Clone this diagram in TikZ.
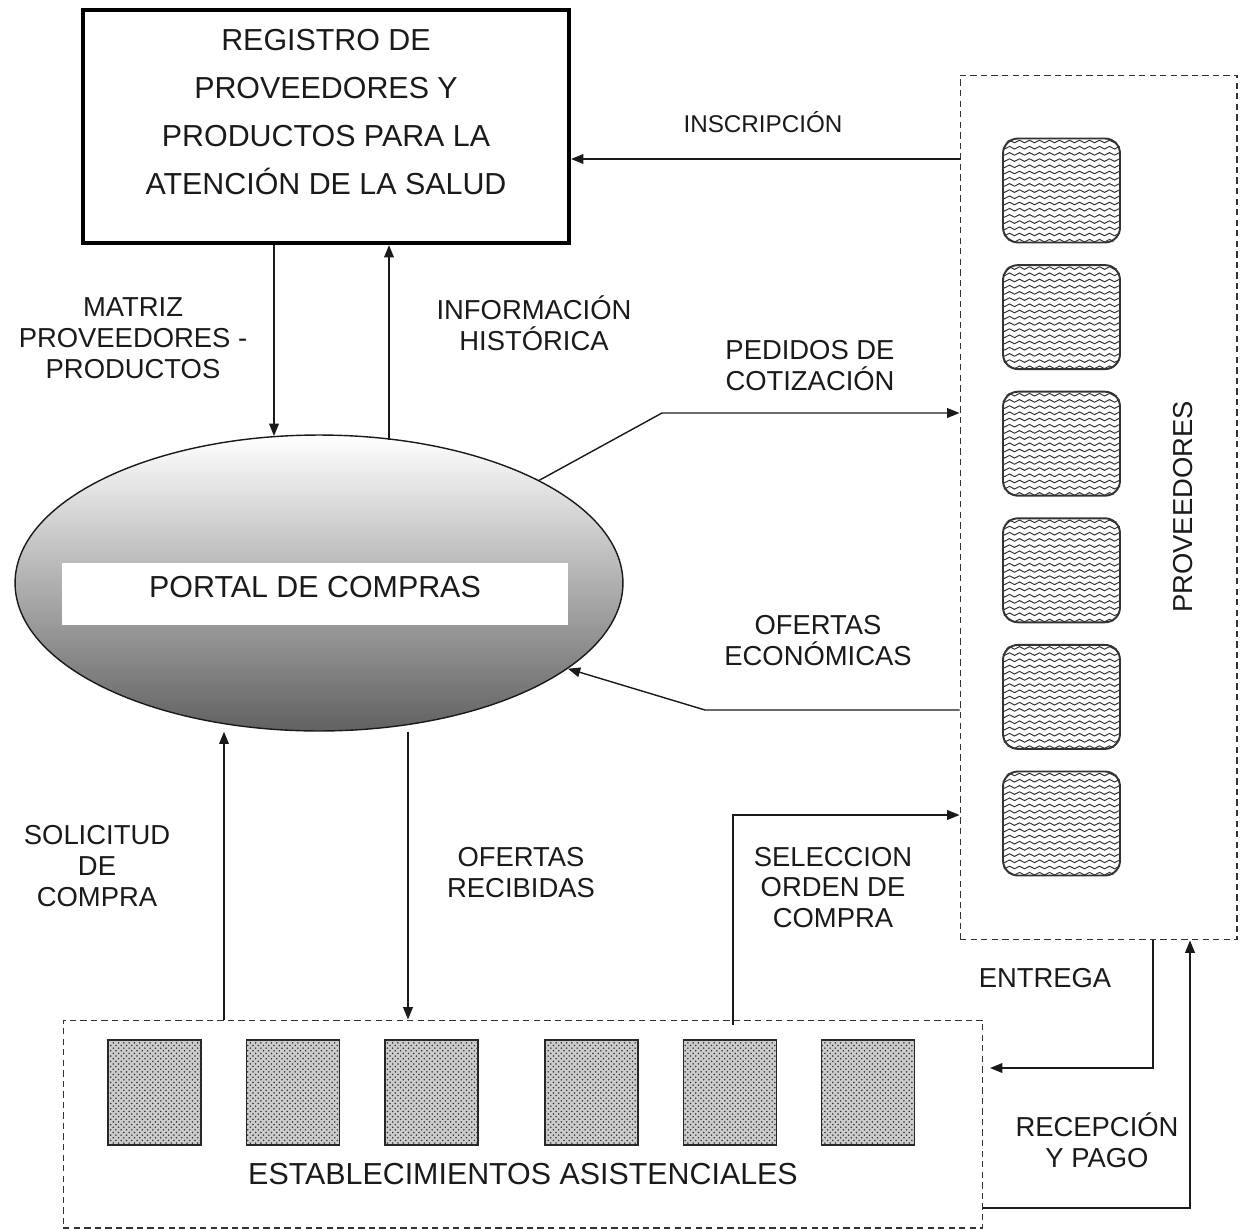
\documentclass[tikz,border=0pt]{standalone}
\usepackage{fontspec}
\setmainfont{Liberation Sans}
\usetikzlibrary{arrows.meta,shapes.geometric,patterns}
\definecolor{ink}{HTML}{1A1A1A}
\begin{document}
\begin{tikzpicture}[x=0.02cm,y=-0.02cm,
  big/.style={font=\fontsize{17.3}{27.2}\selectfont, text=ink, align=center, inner sep=0pt},
  lbl/.style={font=\fontsize{15.6}{17.6}\selectfont, text=ink, align=center, inner sep=0pt},
  arr/.style={draw=ink, line width=0.8pt, -{Triangle[length=7pt,width=5.5pt]}},
  dashbox/.style={draw=black!80, line width=0.6pt, dash pattern=on 3.6pt off 2.4pt, rectangle, inner sep=0pt},
  wavebox/.style={rectangle, rounded corners=0.3cm, draw=black!80, line width=1.1pt,
    minimum width=2.34cm, minimum height=2.08cm, inner sep=0pt},
  wave/.style={black!80, line width=0.55pt},
  dotbox/.style={rectangle, draw=black!85, line width=1.1pt, fill=gray!40,
    minimum width=1.86cm, minimum height=2.1cm, inner sep=0pt,
    postaction={pattern=crosshatch dots, pattern color=black!80}}
]
\useasboundingbox (0,0) rectangle (1246,1230);

% registry
\node[rectangle, draw=black, line width=2.4pt, minimum width=9.72cm, minimum height=4.66cm, inner sep=0pt] (reg) at (326,126.5) {};
\node[big] (regtxt) at (326,112) {REGISTRO DE\\PROVEEDORES Y\\PRODUCTOS PARA LA\\ATENCIÓN DE LA SALUD};

% portal ellipse
\node[ellipse, draw=ink, line width=0.8pt, minimum width=12.16cm, minimum height=5.92cm, inner sep=0pt,
  shading=axis, top color=white, middle color=black!18, bottom color=black!62] (portal) at (319,583) {};
\node[rectangle, fill=white, minimum width=10.12cm, minimum height=1.24cm, inner sep=0pt] (portalbox) at (315,594) {};
\node[big] (portaltxt) at (315,587) {PORTAL DE COMPRAS};

% proveedores box
\node[dashbox, minimum width=5.54cm, minimum height=17.3cm] (prov) at (1098.5,507.5) {};
\foreach \i in {0,...,5} {
  \node[wavebox] (w\i) at (1061.5,190.5+\i*126.6) {};
  \begin{scope}
    \clip[rounded corners=0.3cm] (w\i.south west) rectangle (w\i.north east);
    \foreach \k in {0,...,16}
      \draw[wave] plot[domain=0:120, samples=49] ({1002+\x}, {138.5+\i*126.6+3+\k*6.2+1.3*sin(36*\x)});
  \end{scope}
}
\node[lbl, rotate=90] (provtxt) at (1183,507) {PROVEEDORES};

% establecimientos box
\node[dashbox, minimum width=18.4cm, minimum height=4.16cm] (est) at (523,1124) {};
\node[dotbox] (d1) at (154.5,1092.5) {};
\node[dotbox] (d2) at (293,1092.5) {};
\node[dotbox] (d3) at (431.5,1092.5) {};
\node[dotbox] (d4) at (591.5,1092.5) {};
\node[dotbox] (d5) at (730,1092.5) {};
\node[dotbox] (d6) at (868,1092.5) {};
\node[big] (esttxt) at (523,1174) {ESTABLECIMIENTOS ASISTENCIALES};

% connectors
\draw[arr] (prov.west |- 0,159) -- (reg.east |- 0,159);
\draw[arr] (274,0 |- reg.south) -- (274,436);
\draw[arr] (389,440) -- (389,0 |- reg.south);
\draw[arr] (portal.25) -- (662,413) -- (prov.west |- 0,413);
\draw[arr] (prov.west |- 0,710) -- (705,710) -- (portal.-19);
\draw[arr] (224,0 |- est.north) -- (224,0 |- portal.south);
\draw[arr] (408,0 |- portal.south) -- (408,0 |- est.north);
\draw[arr] (733,1025) -- (733,815) -- (prov.west |- 0,815);
\draw[arr] (1153,0 |- prov.south) -- (1153,1068) -- (990,1068);
\draw[arr] (est.east |- 0,1208) -- (1190,1208) -- (1190,0 |- prov.south);

% labels
\node[lbl, font=\fontsize{13.8}{16}\selectfont] (l1) at (763,122) {INSCRIPCIÓN};
\node[lbl] (l2) at (133,338.5) {MATRIZ\\PROVEEDORES -\\PRODUCTOS};
\node[lbl] (l3) at (534,323.5) {INFORMACIÓN\\HISTÓRICA};
\node[lbl] (l4) at (810,366) {PEDIDOS DE\\COTIZACIÓN};
\node[lbl] (l5) at (818,640.5) {OFERTAS\\ECONÓMICAS};
\node[lbl] (l6) at (97,866) {SOLICITUD\\DE\\COMPRA};
\node[lbl] (l7) at (521,872.5) {OFERTAS\\RECIBIDAS};
\node[lbl] (l8) at (833,887.5) {SELECCION\\ORDEN DE\\COMPRA};
\node[lbl] (l9) at (1045,978) {ENTREGA};
\node[lbl] (l10) at (1097,1140.5) {RECEPCIÓN\\Y PAGO};
\end{tikzpicture}
\end{document}
